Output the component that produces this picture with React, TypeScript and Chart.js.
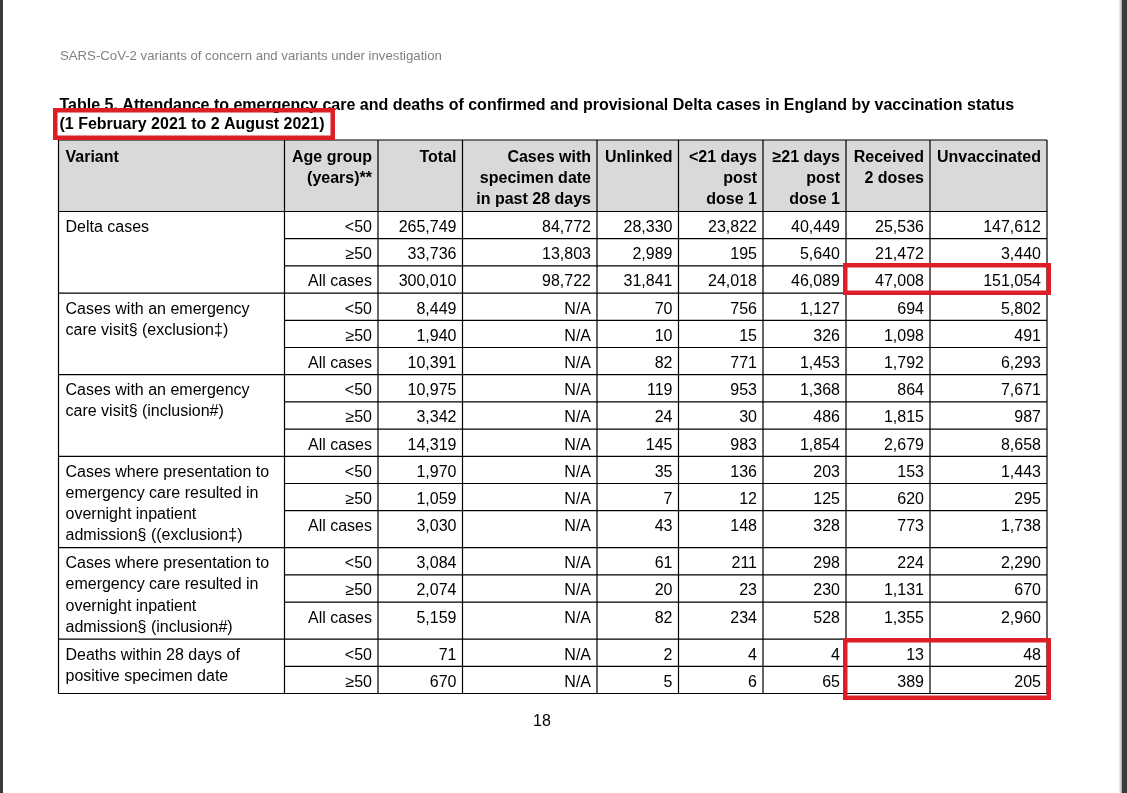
import React, { useEffect, useRef } from "react";
import { Chart, registerables } from "chart.js";

Chart.register(...registerables);

// ---------- DATA ----------
const pageHeader = "SARS-CoV-2 variants of concern and variants under investigation";
const titleLines = [
  "Table 5. Attendance to emergency care and deaths of confirmed and provisional Delta cases in England by vaccination status",
  "(1 February 2021 to 2 August 2021)",
];
const columnHeaders: string[][] = [
  ["Variant"],
  ["Age group", "(years)**"],
  ["Total"],
  ["Cases with", "specimen date", "in past 28 days"],
  ["Unlinked"],
  ["<21 days", "post", "dose 1"],
  ["≥21 days", "post", "dose 1"],
  ["Received", "2 doses"],
  ["Unvaccinated"],
];
const variantGroups: string[][] = [
  ["Delta cases"],
  ["Cases with an emergency", "care visit§ (exclusion‡)"],
  ["Cases with an emergency", "care visit§ (inclusion#)"],
  ["Cases where presentation to", "emergency care resulted in", "overnight inpatient", "admission§ ((exclusion‡)"],
  ["Cases where presentation to", "emergency care resulted in", "overnight inpatient", "admission§ (inclusion#)"],
  ["Deaths within 28 days of", "positive specimen date"],
];
const groupSizes = [3, 3, 3, 3, 3, 2];
const ageGroups = [
  "<50", "≥50", "All cases",
  "<50", "≥50", "All cases",
  "<50", "≥50", "All cases",
  "<50", "≥50", "All cases",
  "<50", "≥50", "All cases",
  "<50", "≥50",
];
const total = [265749, 33736, 300010, 8449, 1940, 10391, 10975, 3342, 14319, 1970, 1059, 3030, 3084, 2074, 5159, 71, 670];
const casesPast28Days: (number | null)[] = [84772, 13803, 98722, null, null, null, null, null, null, null, null, null, null, null, null, null, null];
const unlinked = [28330, 2989, 31841, 70, 10, 82, 119, 24, 145, 35, 7, 43, 61, 20, 82, 2, 5];
const under21DaysDose1 = [23822, 195, 24018, 756, 15, 771, 953, 30, 983, 136, 12, 148, 211, 23, 234, 4, 6];
const over21DaysDose1 = [40449, 5640, 46089, 1127, 326, 1453, 1368, 486, 1854, 203, 125, 328, 298, 230, 528, 4, 65];
const twoDoses = [25536, 21472, 47008, 694, 1098, 1792, 864, 1815, 2679, 153, 620, 773, 224, 1131, 1355, 13, 389];
const unvaccinated = [147612, 3440, 151054, 5802, 491, 6293, 7671, 987, 8658, 1443, 295, 1738, 2290, 670, 2960, 48, 205];
const pageNumber = "18";

// ---------- LAYOUT (positions / styles) ----------
const W = 1127;
const H = 793;
const COL_EDGES = [58.5, 284.5, 378, 462.5, 597, 678.5, 763, 846, 930, 1047];
const HEADER_TOP = 140;
const HEADER_BOTTOM = 211.5;
const ROW_H = 27.2;
const TALL_ROW_H = 37;
const TALL_ROWS = [11, 14];
const FONT = '"Liberation Sans", Arial, sans-serif';
const RED = "rgb(221, 30, 38)";
// highlight boxes over cells: [firstCol, endCol, firstRow, endRow, topOffset, bottomOffset]
const HIGHLIGHTS_CELLS = [
  [7, 9, 2, 3, -0.65, -0.35],
  [7, 9, 15, 17, 1.15, 4.25],
];

const numericColumns = [total, casesPast28Days, unlinked, under21DaysDose1, over21DaysDose1, twoDoses, unvaccinated];

function fmt(v: number | null) {
  return v === null ? "N/A" : v.toLocaleString("en-US");
}

function rowEdges(): number[] {
  const edges = [HEADER_BOTTOM];
  for (let i = 0; i < ageGroups.length; i++) {
    edges.push(edges[i] + (TALL_ROWS.includes(i) ? TALL_ROW_H : ROW_H));
  }
  return edges;
}

const tablePlugin = {
  id: "tablePlugin",
  beforeDraw(chart: any) {
    const ctx = chart.ctx;
    ctx.save();
    ctx.fillStyle = "#ffffff";
    ctx.fillRect(0, 0, chart.width, chart.height);
    ctx.restore();
  },
  afterDraw(chart: any) {
    const { ctx } = chart;
    const xs = chart.scales.x;
    const ys = chart.scales.y;
    const X = (v: number) => xs.getPixelForValue(v);
    const Y = (v: number) => ys.getPixelForValue(v);
    const rows = rowEdges();
    const tableBottom = rows[rows.length - 1];

    ctx.save();

    // page edges
    ctx.fillStyle = "#3a3a3a";
    ctx.fillRect(X(0), Y(0), X(3) - X(0), Y(H) - Y(0));
    ctx.fillRect(X(1121.5), Y(0), X(W) - X(1121.5), Y(H) - Y(0));
    ctx.fillStyle = "#d0d0d0";
    ctx.fillRect(X(1119.5), Y(0), 2, Y(H) - Y(0));

    // page header
    ctx.fillStyle = "#808080";
    ctx.font = `13.2px ${FONT}`;
    ctx.textAlign = "left";
    ctx.textBaseline = "alphabetic";
    ctx.fillText(pageHeader, X(60), Y(60));

    // title
    ctx.fillStyle = "#000";
    ctx.font = `bold 16px ${FONT}`;
    ctx.fillText(titleLines[0], X(59.5), Y(110));
    ctx.fillText(titleLines[1], X(59.5), Y(129));

    // header background
    ctx.fillStyle = "#d9d9d9";
    ctx.fillRect(X(COL_EDGES[0]), Y(HEADER_TOP), X(COL_EDGES[9]) - X(COL_EDGES[0]), Y(HEADER_BOTTOM) - Y(HEADER_TOP));

    // header text
    ctx.fillStyle = "#000";
    ctx.font = `bold 16px ${FONT}`;
    columnHeaders.forEach((lines, c) => {
      lines.forEach((t, li) => {
        const by = Y(HEADER_TOP + 22 + li * 21);
        if (c === 0) {
          ctx.textAlign = "left";
          ctx.fillText(t, X(COL_EDGES[c]) + 7, by);
        } else {
          ctx.textAlign = "right";
          ctx.fillText(t, X(COL_EDGES[c + 1]) - 6, by);
        }
      });
    });

    // body text
    ctx.font = `16px ${FONT}`;
    let r0 = 0;
    variantGroups.forEach((lines, g) => {
      ctx.textAlign = "left";
      lines.forEach((t, li) => {
        ctx.fillText(t, X(COL_EDGES[0]) + 7, Y(rows[r0] + 20.5 + li * 21.2));
      });
      r0 += groupSizes[g];
    });
    ctx.textAlign = "right";
    ageGroups.forEach((a, r) => {
      const by = Y(rows[r] + 20.5);
      ctx.fillText(a, X(COL_EDGES[2]) - 6, by);
      numericColumns.forEach((col, k) => {
        ctx.fillText(fmt(col[r]), X(COL_EDGES[k + 3]) - 6, by);
      });
    });

    // grid lines
    ctx.strokeStyle = "#000";
    ctx.lineWidth = 1.2;
    ctx.beginPath();
    COL_EDGES.forEach((cx) => {
      ctx.moveTo(X(cx), Y(HEADER_TOP));
      ctx.lineTo(X(cx), Y(tableBottom));
    });
    ctx.moveTo(X(COL_EDGES[0]), Y(HEADER_TOP));
    ctx.lineTo(X(COL_EDGES[9]), Y(HEADER_TOP));
    const groupStarts: number[] = [];
    let acc = 0;
    groupSizes.forEach((s) => {
      groupStarts.push(acc);
      acc += s;
    });
    rows.forEach((ry, i) => {
      const full = i === 0 || i === rows.length - 1 || groupStarts.includes(i);
      ctx.moveTo(X(full ? COL_EDGES[0] : COL_EDGES[1]), Y(ry));
      ctx.lineTo(X(COL_EDGES[9]), Y(ry));
    });
    ctx.stroke();

    // red highlight boxes
    ctx.strokeStyle = RED;
    ctx.lineWidth = 4.5;
    ctx.strokeRect(X(55.25), Y(110.25), X(332.75) - X(55.25), Y(137.75) - Y(110.25));
    HIGHLIGHTS_CELLS.forEach(([c0, c1, rA, rB, dt, db]) => {
      const left = COL_EDGES[c0] - 0.75;
      const right = COL_EDGES[c1] + 1.75;
      const top = rows[rA] + dt;
      const bottom = rows[rB] + db;
      ctx.strokeRect(X(left), Y(top), X(right) - X(left), Y(bottom) - Y(top));
    });

    // page number
    ctx.fillStyle = "#000";
    ctx.font = `16px ${FONT}`;
    ctx.textAlign = "center";
    ctx.fillText(pageNumber, X(542), Y(726));

    ctx.restore();
  },
};

export default function App() {
  const canvasRef = useRef<HTMLCanvasElement | null>(null);

  useEffect(() => {
    const canvas = canvasRef.current;
    if (!canvas) return;
    const chart = new Chart(canvas, {
      type: "scatter",
      data: { datasets: [] },
      options: {
        animation: false,
        responsive: false,
        devicePixelRatio: 1,
        layout: { padding: 0 },
        plugins: { legend: { display: false }, tooltip: { enabled: false }, title: { display: false } },
        scales: {
          x: { type: "linear", min: 0, max: W, display: false },
          y: { type: "linear", min: 0, max: H, reverse: true, display: false },
        },
      },
      plugins: [tablePlugin],
    });
    return () => chart.destroy();
  }, []);

  return (
    <div style={{ position: "fixed", left: 0, top: 0, width: W, height: H, background: "#fff" }}>
      <canvas ref={canvasRef} width={W} height={H} style={{ display: "block" }} />
    </div>
  );
}
